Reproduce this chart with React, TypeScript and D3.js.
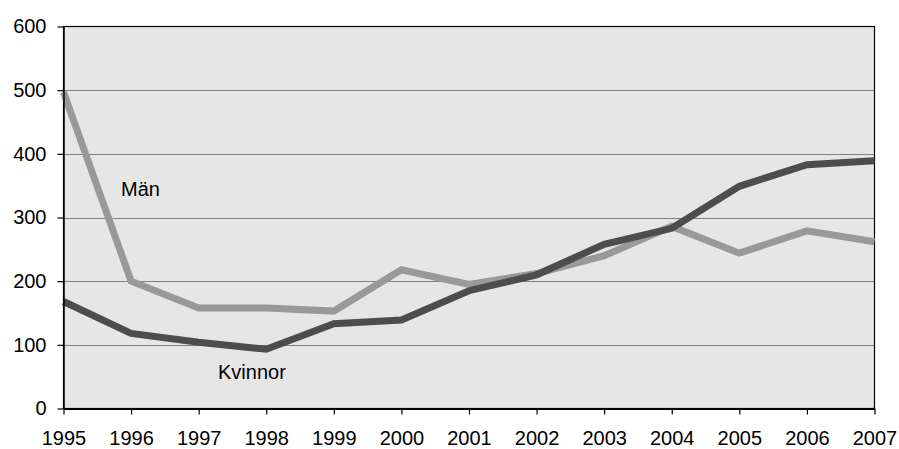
import * as d3 from "d3";
import { useEffect, useRef } from "react";

const years = [1995, 1996, 1997, 1998, 1999, 2000, 2001, 2002, 2003, 2004, 2005, 2006, 2007];
const man = [497, 200, 158, 158, 153, 218, 195, 212, 240, 286, 244, 279, 262];
const kvinnor = [168, 118, 104, 93, 133, 139, 185, 210, 258, 283, 349, 383, 389];
const yTicks = [0, 100, 200, 300, 400, 500, 600];

const width = 899;
const height = 449;

export default function App() {
  const ref = useRef<SVGSVGElement>(null);

  useEffect(() => {
    if (!ref.current) return;
    const svg = d3.select(ref.current);
    svg.selectAll("*").remove();

    const left = 63.5;
    const right = 874.5;
    const top = 26.5;
    const bottom = 408.5;
    const font = "'Liberation Sans', Arial, sans-serif";
    const fs = 20;

    const x = d3.scaleLinear().domain([1995, 2007]).range([left, right]);
    const y = d3.scaleLinear().domain([0, 600]).range([bottom, top]);

    // plot background
    svg
      .append("rect")
      .attr("x", left)
      .attr("y", top)
      .attr("width", right - left)
      .attr("height", bottom - top)
      .attr("fill", "#e6e6e6");

    // gridlines
    svg
      .selectAll(".grid")
      .data(yTicks.filter((d) => d > 0 && d < 600))
      .enter()
      .append("line")
      .attr("x1", left)
      .attr("x2", right)
      .attr("y1", (d) => Math.round(y(d)) + 0.5)
      .attr("y2", (d) => Math.round(y(d)) + 0.5)
      .attr("stroke", "#808080")
      .attr("stroke-width", 1);

    // border
    svg
      .append("rect")
      .attr("x", left)
      .attr("y", top)
      .attr("width", right - left)
      .attr("height", bottom - top)
      .attr("fill", "none")
      .attr("stroke", "#000")
      .attr("stroke-width", 1.2);

    // lines
    const line = d3
      .line<number>()
      .x((_, i) => x(years[i]))
      .y((d) => y(d));

    svg
      .append("path")
      .datum(man)
      .attr("d", line)
      .attr("fill", "none")
      .attr("stroke", "#999999")
      .attr("stroke-width", 7)
      .attr("stroke-linejoin", "miter");

    svg
      .append("path")
      .datum(kvinnor)
      .attr("d", line)
      .attr("fill", "none")
      .attr("stroke", "#4d4d4d")
      .attr("stroke-width", 7)
      .attr("stroke-linejoin", "miter");

    // y axis
    const yAxis = d3.axisLeft(y).tickValues(yTicks).tickSize(6).tickPadding(11).tickSizeOuter(0);
    const gy = svg.append("g").attr("transform", `translate(${left},0)`).call(yAxis);
    gy.select(".domain").attr("stroke", "#000").attr("stroke-width", 1.5);
    gy.selectAll(".tick line").attr("stroke", "#000").attr("stroke-width", 1.2);
    gy.selectAll(".tick text")
      .attr("font-family", font)
      .attr("font-size", fs)
      .attr("fill", "#000");

    // x axis
    const xAxis = d3
      .axisBottom(x)
      .tickValues(years)
      .tickFormat(d3.format("d"))
      .tickSize(6)
      .tickPadding(16)
      .tickSizeOuter(0);
    const gx = svg.append("g").attr("transform", `translate(0,${bottom})`).call(xAxis);
    gx.select(".domain").attr("stroke", "#000").attr("stroke-width", 2);
    gx.selectAll(".tick line").attr("stroke", "#000").attr("stroke-width", 1.2);
    gx.selectAll(".tick text")
      .attr("font-family", font)
      .attr("font-size", fs)
      .attr("fill", "#000");

    // series labels
    svg
      .append("text")
      .attr("x", 121)
      .attr("y", 196)
      .attr("font-family", font)
      .attr("font-size", fs)
      .attr("fill", "#000")
      .text("Män");
    svg
      .append("text")
      .attr("x", 218)
      .attr("y", 379)
      .attr("font-family", font)
      .attr("font-size", fs)
      .attr("fill", "#000")
      .text("Kvinnor");
  }, []);

  return (
    <svg
      ref={ref}
      width={width}
      height={height}
      style={{ position: "absolute", left: 0, top: 0, background: "#fff" }}
    />
  );
}
